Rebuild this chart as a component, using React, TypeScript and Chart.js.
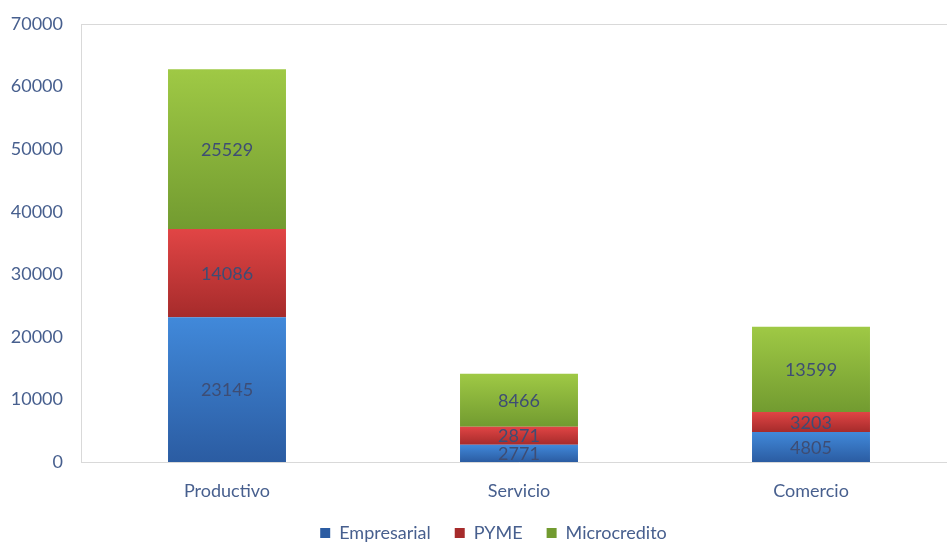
import React, { useEffect, useRef } from "react";
import { Chart, registerables } from "chart.js";

Chart.register(...registerables);

const categories = ["Productivo", "Servicio", "Comercio"];
const empresarial = [23145, 2771, 4805];
const pyme = [14086, 2871, 3203];
const microcredito = [25529, 8466, 13599];
const seriesNames = ["Empresarial", "PYME", "Microcredito"];
const yTicks = [0, 10000, 20000, 30000, 40000, 50000, 60000, 70000];

const FONT = "Lato, 'Open Sans', sans-serif";
const TICK_COLOR = "#475f8e";
const LABEL_COLOR = "#3e4d74";

const solid = ["#3a72c4", "#cc3434", "#8cb83c"];
const gradTop = ["#4189da", "#e14545", "#9fc945"];
const gradBottom = ["#2b5ca2", "#a62b2b", "#729b30"];

export default function App() {
  const ref = useRef<HTMLCanvasElement | null>(null);

  useEffect(() => {
    if (!ref.current) return;
    const allSeries = [empresarial, pyme, microcredito];

    const bg = (di: number) => (ctx: any) => {
      const chart = ctx.chart;
      if (ctx.type !== "data" || !chart.chartArea || !chart.scales?.y) return solid[di];
      const i = ctx.dataIndex;
      let base = 0;
      for (let k = 0; k < di; k++) base += allSeries[k][i];
      const top = base + allSeries[di][i];
      const y = chart.scales.y;
      const y0 = y.getPixelForValue(top);
      const y1 = y.getPixelForValue(base);
      if (!isFinite(y0) || !isFinite(y1) || y0 === y1) return solid[di];
      const g = chart.ctx.createLinearGradient(0, y0, 0, y1);
      g.addColorStop(0, gradTop[di]);
      g.addColorStop(1, gradBottom[di]);
      return g;
    };

    const frame = {
      id: "frame",
      afterLayout(chart: any) {
        if (chart.legend) {
          chart.legend.left += 15;
          chart.legend.right += 15;
        }
      },
      beforeDatasetsDraw(chart: any) {
        const { ctx, chartArea } = chart;
        ctx.save();
        ctx.strokeStyle = "#d9d9d9";
        ctx.lineWidth = 1;
        ctx.beginPath();
        ctx.moveTo(chartArea.left, Math.round(chartArea.top) + 0.5);
        ctx.lineTo(chartArea.right, Math.round(chartArea.top) + 0.5);
        ctx.stroke();
        ctx.restore();
      },
    };

    const labels = {
      id: "valueLabels",
      afterDatasetsDraw(chart: any) {
        const { ctx } = chart;
        ctx.save();
        ctx.font = `18px ${FONT}`;
        ctx.fillStyle = LABEL_COLOR;
        ctx.textAlign = "center";
        ctx.textBaseline = "middle";
        chart.data.datasets.forEach((ds: any, di: number) => {
          const meta = chart.getDatasetMeta(di);
          meta.data.forEach((el: any, i: number) => {
            const yy = (el.y + el.base) / 2;
            ctx.fillText(String(ds.data[i]), el.x, yy + 1);
          });
        });
        ctx.restore();
      },
    };

    const chart = new Chart(ref.current, {
      type: "bar",
      data: {
        labels: categories,
        datasets: allSeries.map((d, di) => ({
          label: seriesNames[di],
          data: d,
          backgroundColor: bg(di),
          borderWidth: 0,
          barPercentage: 0.404,
          categoryPercentage: 1,
        })),
      },
      options: {
        animation: false,
        responsive: false,
        maintainAspectRatio: false,
        layout: { padding: { left: 0, right: 0, top: 24, bottom: 0 } },
        scales: {
          x: {
            stacked: true,
            afterFit: (scale: any) => {
              scale.height = 38;
              scale.paddingLeft = 0;
              scale.paddingRight = 0;
            },
            grid: { display: false, drawTicks: false },
            border: { display: true, color: "#d9d9d9" },
            ticks: { font: { family: FONT, size: 18 }, color: TICK_COLOR, padding: 18 },
          },
          y: {
            stacked: true,
            min: 0,
            max: 70000,
            afterBuildTicks: (scale: any) => {
              scale.ticks = yTicks.map((v) => ({ value: v }));
            },
            afterFit: (scale: any) => {
              scale.width = 81;
              scale.paddingTop = 0;
              scale.paddingBottom = 0;
            },
            grid: { display: false, drawTicks: false },
            border: { display: true, color: "#d9d9d9" },
            ticks: {
              font: { family: FONT, size: 18 },
              color: TICK_COLOR,
              padding: 18,
              callback: (v: any) => String(v),
            },
          },
        },
        plugins: {
          legend: {
            position: "bottom",
            labels: {
              font: { family: FONT, size: 18 },
              color: TICK_COLOR,
              boxWidth: 10,
              boxHeight: 10,
              padding: 24,
            },
          },
          tooltip: { enabled: false },
        },
      },
      plugins: [frame, labels],
    });
    return () => chart.destroy();
  }, []);

  return (
    <div style={{ position: "fixed", left: 0, top: 0, width: 947, height: 543, overflow: "hidden", background: "#fff" }}>
      <canvas ref={ref} width={957} height={552} style={{ display: "block", width: 957, height: 552 }} />
    </div>
  );
}
